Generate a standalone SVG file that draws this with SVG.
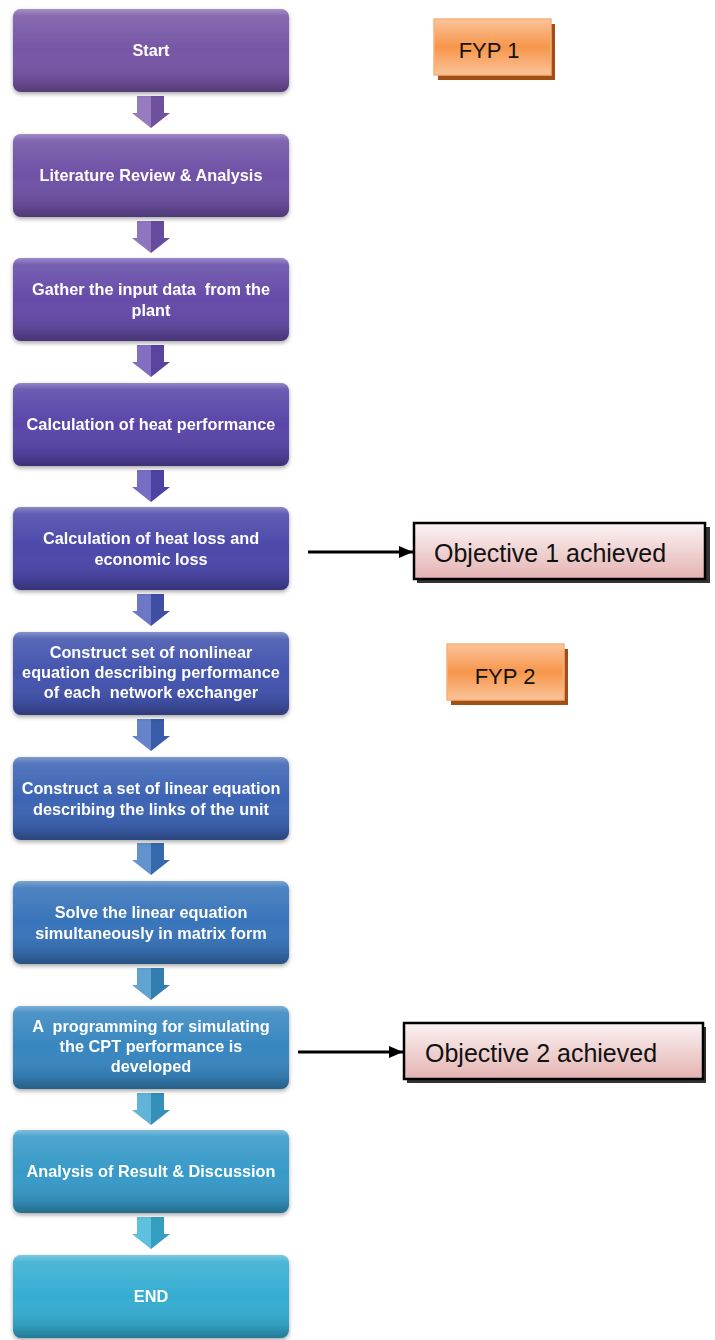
<svg xmlns="http://www.w3.org/2000/svg" width="715" height="1340" viewBox="0 0 715 1340">
<defs>
<linearGradient id="gloss" x1="0" y1="0" x2="0" y2="1">
<stop offset="0" stop-color="#ffffff" stop-opacity="0.35"/>
<stop offset="0.08" stop-color="#ffffff" stop-opacity="0.12"/>
<stop offset="0.5" stop-color="#ffffff" stop-opacity="0"/>
<stop offset="0.85" stop-color="#000000" stop-opacity="0.1"/>
<stop offset="1" stop-color="#000000" stop-opacity="0.3"/>
</linearGradient>
<linearGradient id="orange" x1="0" y1="0" x2="0" y2="1">
<stop offset="0" stop-color="#fbc39a"/>
<stop offset="0.5" stop-color="#f7964a"/>
<stop offset="1" stop-color="#fbc39a"/>
</linearGradient>
<linearGradient id="pink" x1="0" y1="0" x2="0" y2="1">
<stop offset="0" stop-color="#fbf3f3"/>
<stop offset="1" stop-color="#e4b3b2"/>
</linearGradient>
<filter id="sh" x="-10%" y="-10%" width="120%" height="130%">
<feDropShadow dx="0" dy="2" stdDeviation="2" flood-color="#000" flood-opacity="0.35"/>
</filter>
<marker id="ah" markerWidth="14" markerHeight="12" refX="14" refY="6" orient="auto" markerUnits="userSpaceOnUse">
<path d="M0,0 L14,6 L0,12 z" fill="#000"/>
</marker>
</defs>
<style>
.box{filter:url(#sh)}
.gl{fill:url(#gloss)}
.t{font-family:"Liberation Sans",Arial,sans-serif;font-weight:bold;font-size:16.3px;fill:#ffffff;text-anchor:middle;white-space:pre}
.fyp{font-family:"Liberation Sans",Arial,sans-serif;font-size:22px;fill:#111;text-anchor:middle}
.obj{font-family:"Liberation Sans",Arial,sans-serif;font-size:25px;fill:#111}
.lf{fill:#ffffff;fill-opacity:0.2}
.rf{fill:#000000;fill-opacity:0.1}
</style>

<g id="connectors">
<g id="a1"><polygon points="137,96 164,96 164,113 170,113 151,128 132,113 137,113" fill="#7c5ab0"/><polygon class="lf" points="137,96 151,96 151,128 132,113 137,113"/><polygon class="rf" points="151,96 164,96 164,113 170,113 151,128"/></g>
<g id="a2"><polygon points="137,221 164,221 164,238 170,238 151,253 132,238 137,238" fill="#7254b0"/><polygon class="lf" points="137,221 151,221 151,253 132,238 137,238"/><polygon class="rf" points="151,221 164,221 164,238 170,238 151,253"/></g>
<g id="a3"><polygon points="137,345 164,345 164,362 170,362 151,377 132,362 137,362" fill="#654cb2"/><polygon class="lf" points="137,345 151,345 151,377 132,362 137,362"/><polygon class="rf" points="151,345 164,345 164,362 170,362 151,377"/></g>
<g id="a4"><polygon points="137,470 164,470 164,487 170,487 151,502 132,487 137,487" fill="#554ab4"/><polygon class="lf" points="137,470 151,470 151,502 132,487 137,487"/><polygon class="rf" points="151,470 164,470 164,487 170,487 151,502"/></g>
<g id="a5"><polygon points="137,594 164,594 164,611 170,611 151,626 132,611 137,611" fill="#4856b8"/><polygon class="lf" points="137,594 151,594 151,626 132,611 137,611"/><polygon class="rf" points="151,594 164,594 164,611 170,611 151,626"/></g>
<g id="a6"><polygon points="137,719 164,719 164,736 170,736 151,751 132,736 137,736" fill="#4066bc"/><polygon class="lf" points="137,719 151,719 151,751 132,736 137,736"/><polygon class="rf" points="151,719 164,719 164,736 170,736 151,751"/></g>
<g id="a7"><polygon points="137,843 164,843 164,860 170,860 151,875 132,860 137,860" fill="#3c78c0"/><polygon class="lf" points="137,843 151,843 151,875 132,860 137,860"/><polygon class="rf" points="151,843 164,843 164,860 170,860 151,875"/></g>
<g id="a8"><polygon points="137,968 164,968 164,985 170,985 151,1000 132,985 137,985" fill="#3a8cc6"/><polygon class="lf" points="137,968 151,968 151,1000 132,985 137,985"/><polygon class="rf" points="151,968 164,968 164,985 170,985 151,1000"/></g>
<g id="a9"><polygon points="137,1093 164,1093 164,1110 170,1110 151,1125 132,1110 137,1110" fill="#3aa0ce"/><polygon class="lf" points="137,1093 151,1093 151,1125 132,1110 137,1110"/><polygon class="rf" points="151,1093 164,1093 164,1110 170,1110 151,1125"/></g>
<g id="a10"><polygon points="137,1217 164,1217 164,1234 170,1234 151,1249 132,1234 137,1234" fill="#38b2d6"/><polygon class="lf" points="137,1217 151,1217 151,1249 132,1234 137,1234"/><polygon class="rf" points="151,1217 164,1217 164,1234 170,1234 151,1249"/></g>
<line x1="308" y1="552" x2="413" y2="552" stroke="#000" stroke-width="3" marker-end="url(#ah)"/>
<line x1="298" y1="1052" x2="403" y2="1052" stroke="#000" stroke-width="3" marker-end="url(#ah)"/>
</g>

<g id="n1" class="box"><rect x="13" y="9" width="276" height="83" rx="8" fill="#7756a6"/><rect class="gl" x="13" y="9" width="276" height="83" rx="8"/><text class="t" x="151" y="56">Start</text></g>
<g id="n2" class="box"><rect x="13" y="134" width="276" height="83" rx="8" fill="#6f51a6"/><rect class="gl" x="13" y="134" width="276" height="83" rx="8"/><text class="t" x="151" y="181">Literature Review &amp; Analysis</text></g>
<g id="n3" class="box"><rect x="13" y="258" width="276" height="83" rx="8" fill="#654ba8"/><rect class="gl" x="13" y="258" width="276" height="83" rx="8"/><text class="t" x="151" y="295">Gather the input data  from the</text><text class="t" x="151" y="316">plant</text></g>
<g id="n4" class="box"><rect x="13" y="383" width="276" height="83" rx="8" fill="#5946a8"/><rect class="gl" x="13" y="383" width="276" height="83" rx="8"/><text class="t" x="151" y="430">Calculation of heat performance</text></g>
<g id="n5" class="box"><rect x="13" y="507" width="276" height="83" rx="8" fill="#4c48aa"/><rect class="gl" x="13" y="507" width="276" height="83" rx="8"/><text class="t" x="151" y="544">Calculation of heat loss and</text><text class="t" x="151" y="565">economic loss</text></g>
<g id="n6" class="box"><rect x="13" y="632" width="276" height="83" rx="8" fill="#4354ae"/><rect class="gl" x="13" y="632" width="276" height="83" rx="8"/><text class="t" x="151" y="658">Construct set of nonlinear</text><text class="t" x="151" y="678">equation describing performance</text><text class="t" x="151" y="698">of each  network exchanger</text></g>
<g id="n7" class="box"><rect x="13" y="757" width="276" height="83" rx="8" fill="#3c64b4"/><rect class="gl" x="13" y="757" width="276" height="83" rx="8"/><text class="t" x="151" y="794">Construct a set of linear equation</text><text class="t" x="151" y="815">describing the links of the unit</text></g>
<g id="n8" class="box"><rect x="13" y="881" width="276" height="83" rx="8" fill="#3874ba"/><rect class="gl" x="13" y="881" width="276" height="83" rx="8"/><text class="t" x="151" y="918">Solve the linear equation</text><text class="t" x="151" y="939">simultaneously in matrix form</text></g>
<g id="n9" class="box"><rect x="13" y="1006" width="276" height="83" rx="8" fill="#3786c0"/><rect class="gl" x="13" y="1006" width="276" height="83" rx="8"/><text class="t" x="151" y="1032">A  programming for simulating</text><text class="t" x="151" y="1052">the CPT performance is</text><text class="t" x="151" y="1072">developed</text></g>
<g id="n10" class="box"><rect x="13" y="1130" width="276" height="83" rx="8" fill="#379ac8"/><rect class="gl" x="13" y="1130" width="276" height="83" rx="8"/><text class="t" x="151" y="1177">Analysis of Result &amp; Discussion</text></g>
<g id="n11" class="box"><rect x="13" y="1255" width="276" height="83" rx="8" fill="#36add2"/><rect class="gl" x="13" y="1255" width="276" height="83" rx="8"/><text class="t" x="151" y="1302">END</text></g>

<g id="fyp1"><rect x="438" y="24" width="117" height="56" fill="#a14f14"/><rect x="434" y="19" width="117" height="56" fill="url(#orange)" stroke="#f9b07a" stroke-width="1.5"/><text class="fyp" x="489" y="58">FYP 1</text></g>
<g id="fyp2"><rect x="451" y="649" width="117" height="56" fill="#a14f14"/><rect x="447" y="644" width="117" height="56" fill="url(#orange)" stroke="#f9b07a" stroke-width="1.5"/><text class="fyp" x="505" y="684">FYP 2</text></g>

<g id="obj1"><rect x="417" y="527" width="293" height="56" fill="#333"/><rect x="414" y="523" width="291" height="56" fill="url(#pink)" stroke="#000" stroke-width="2.5"/><text class="obj" x="434" y="562">Objective 1 achieved</text></g>
<g id="obj2"><rect x="407" y="1027" width="299" height="56" fill="#333"/><rect x="404" y="1023" width="299" height="56" fill="url(#pink)" stroke="#000" stroke-width="2.5"/><text class="obj" x="425" y="1062">Objective 2 achieved</text></g>
</svg>
